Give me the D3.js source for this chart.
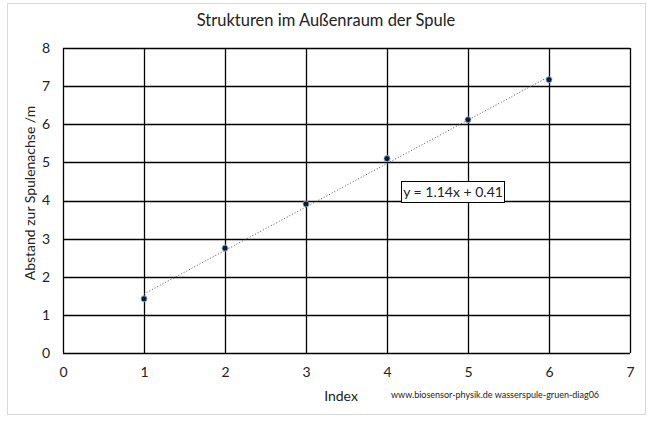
<!DOCTYPE html>
<html>
<head>
<meta charset="utf-8">
<script src="https://cdn.jsdelivr.net/npm/d3@7"></script>
<style>
  body { margin: 0; background: #fff; }
  text { font-family: Lato, "Open Sans", sans-serif; fill: #222; }
</style>
</head>
<body>
<div id="chart"></div>
<script>
  // Data
  const indexValues = [1, 2, 3, 4, 5, 6];
  const distances = [1.42, 2.75, 3.91, 5.10, 6.12, 7.17];
  const xTicks = [0, 1, 2, 3, 4, 5, 6, 7];
  const yTicks = [0, 1, 2, 3, 4, 5, 6, 7, 8];
  const trendSlope = 1.14;
  const trendIntercept = 0.41;

  const W = 651, H = 423;
  const margin = { top: 48, right: 21, bottom: 70, left: 63 };
  const width = W - margin.left - margin.right;
  const height = H - margin.top - margin.bottom;

  const root = d3.select('#chart').append('svg')
    .attr('width', W)
    .attr('height', H);

  // Outer frame
  root.append('rect')
    .attr('x', 7.5).attr('y', 3.5)
    .attr('width', 638).attr('height', 411)
    .attr('fill', '#fff')
    .attr('stroke', '#d9d9d9');

  root.append('text')
    .attr('x', 326).attr('y', 26)
    .attr('text-anchor', 'middle')
    .style('font-size', '16.5px')
    .text('Strukturen im Außenraum der Spule');

  const svg = root.append('g')
    .attr('transform', `translate(${margin.left},${margin.top})`);

  const x = d3.scaleLinear().domain([0, 7]).range([0, width]);
  const y = d3.scaleLinear().domain([0, 8]).range([height, 0]);

  // Gridlines
  svg.append('g')
    .selectAll('line')
    .data(yTicks)
    .enter().append('line')
    .attr('x1', 0).attr('x2', width)
    .attr('y1', d => Math.round(y(d)) + 0.5)
    .attr('y2', d => Math.round(y(d)) + 0.5)
    .attr('stroke', '#000').attr('stroke-width', 1.3);

  svg.append('g')
    .selectAll('line')
    .data(xTicks)
    .enter().append('line')
    .attr('y1', 0).attr('y2', height)
    .attr('x1', d => Math.round(x(d)) + 0.5)
    .attr('x2', d => Math.round(x(d)) + 0.5)
    .attr('stroke', '#000').attr('stroke-width', 1.3);

  // Tick labels via d3 axes (no domain / ticks drawn)
  const xAxis = svg.append('g')
    .attr('transform', `translate(0,${height})`)
    .call(d3.axisBottom(x).tickValues(xTicks).tickFormat(d3.format('d')).tickSize(0).tickPadding(14));
  xAxis.select('.domain').remove();
  xAxis.selectAll('text')
    .style('font-family', 'Lato, "Open Sans", sans-serif')
    .style('font-size', '14px')
    .attr('fill', '#222');

  const yAxis = svg.append('g')
    .call(d3.axisLeft(y).tickValues(yTicks).tickFormat(d3.format('d')).tickSize(0).tickPadding(13));
  yAxis.select('.domain').remove();
  yAxis.selectAll('text')
    .style('font-family', 'Lato, "Open Sans", sans-serif')
    .style('font-size', '14px')
    .attr('fill', '#222');

  // Trend line
  const xExt = d3.extent(indexValues);
  svg.append('line')
    .attr('x1', x(xExt[0])).attr('y1', y(trendSlope * xExt[0] + trendIntercept))
    .attr('x2', x(xExt[1])).attr('y2', y(trendSlope * xExt[1] + trendIntercept))
    .attr('stroke', '#555')
    .attr('stroke-width', 1)
    .attr('stroke-dasharray', '1,2');

  // Points
  svg.selectAll('.dot')
    .data(indexValues)
    .enter().append('circle')
    .attr('class', 'dot')
    .attr('cx', d => x(d))
    .attr('cy', (d, i) => y(distances[i]))
    .attr('r', 3)
    .attr('fill', '#0d1b33')
    .attr('stroke', '#8fb0d8')
    .attr('stroke-width', 0.8);

  // Equation label
  const eq = svg.append('g').attr('transform', `translate(${401 - margin.left},${181 - margin.top})`);
  eq.append('rect')
    .attr('x', 0.5).attr('y', 0.5)
    .attr('width', 103).attr('height', 21)
    .attr('fill', '#fff').attr('stroke', '#000');
  eq.append('text')
    .attr('x', 52).attr('y', 16)
    .attr('text-anchor', 'middle')
    .style('font-size', '14px')
    .text(`y = ${trendSlope}x + ${trendIntercept}`);

  // Axis titles
  root.append('text')
    .attr('x', 341).attr('y', 401)
    .attr('text-anchor', 'middle')
    .style('font-size', '14px')
    .text('Index');

  root.append('text')
    .attr('transform', 'rotate(-90)')
    .attr('x', -193).attr('y', 35)
    .attr('text-anchor', 'middle')
    .style('font-size', '14px')
    .text('Abstand zur Spulenachse /m');

  root.append('text')
    .attr('x', 391).attr('y', 398)
    .style('font-size', '9px')
    .text('www.biosensor-physik.de  wasserspule-gruen-diag06');
</script>
</body>
</html>
